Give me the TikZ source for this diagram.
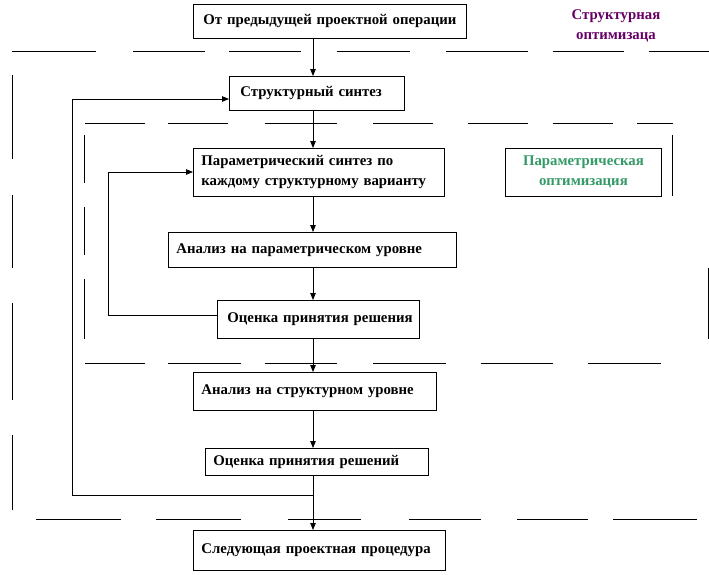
\documentclass[tikz,border=0pt]{standalone}
\usepackage{fontspec}
\setmainfont{Liberation Serif}
\usetikzlibrary{arrows.meta}
\definecolor{labpurple}{HTML}{660066}
\definecolor{labgreen}{HTML}{339966}
\newcommand{\tb}{\fontsize{14.8}{20}\selectfont\bfseries}
\tikzset{
  box/.style={draw, line width=0.8pt, anchor=north west, inner xsep=8pt, inner ysep=0pt, font=\tb, align=left},
  arr/.style={line width=0.8pt, -{Triangle[length=7pt,width=5.5pt]}},
  ln/.style={line width=0.8pt},
  lab/.style={font=\tb, align=center, inner sep=0pt},
}
\begin{document}
\begin{tikzpicture}[x=1pt,y=-1pt]
\useasboundingbox (0,0) rectangle (709,574);
% dashed frame lines
\foreach \a/\b in {12/96,133/205,229/301,337/410,446/528,553/624,649/709}
  \draw[ln] (\a,51) -- (\b,51);
\foreach \a/\b in {85/145,168/228,265/337,373/433,468/528,553/613,637/673}
  \draw[ln] (\a,123) -- (\b,123);
\foreach \a/\b in {85/145,168/241,265/337,373/446,481/553,588/661}
  \draw[ln] (\a,363) -- (\b,363);
\foreach \a/\b in {36/121,156/241,288/361,409/481,517/588,613/697}
  \draw[ln] (\a,519) -- (\b,519);
\foreach \a/\b in {75/159,195/268,303/400,435/510}
  \draw[ln] (12,\a) -- (12,\b);
\foreach \a/\b in {135/183,207/255,279/339}
  \draw[ln] (84,\a) -- (84,\b);
\draw[ln] (672,135) -- (672,196);
\draw[ln] (708,268) -- (708,339);
% boxes
\node[box, align=center, text width=257pt, minimum height=34pt] (b1) at (193,4) {От предыдущей проектной операции};
\node[box, inner xsep=11pt, text width=153pt, minimum height=34pt] (b2) at (229,76) {Структурный синтез};
\node[box, text width=235pt, minimum height=48pt] (b3) at (193,148) {Параметрический синтез по\\каждому  структурному  варианту};
\node[box, align=center, text width=140pt, minimum height=48pt, text=labgreen] (b4) at (505,148) {Параметрическая\\оптимизация};
\node[box, text width=272pt, minimum height=35pt] (b5) at (168,232) {Анализ на параметрическом уровне};
\node[box, inner xsep=3pt, text width=196pt, minimum height=38pt] (b6) at (217,300) {\hspace*{7pt}Оценка принятия решения};
\node[box, text width=227pt, minimum height=38pt] (b7) at (193,372) {Анализ на структурном  уровне};
\node[box, text width=207pt, minimum height=27pt] (b8) at (205,448) {Оценка принятия решений};
\node[box, text width=236pt, minimum height=40pt] (b9) at (193,530) {Следующая  проектная процедура};
\node[lab, text=labpurple] (l1) at (616,26) {Структурная\\оптимизаца};
% connectors
\coordinate (cx) at (313,0);
\coordinate (j) at (313,495);
\coordinate (fbo) at (72,99);
\coordinate (fbi) at (108,172);
\draw[arr] (b1.south -| cx) -- (b2.north -| cx);
\draw[arr] (b2.south -| cx) -- (b3.north -| cx);
\draw[arr] (b3.south -| cx) -- (b5.north -| cx);
\draw[arr] (b5.south -| cx) -- (b6.north -| cx);
\draw[arr] (b6.south -| cx) -- (b7.north -| cx);
\draw[arr] (b7.south -| cx) -- (b8.north -| cx);
\draw[arr] (b8.south -| cx) -- (b9.north -| cx);
\draw[arr] (j) -| (fbo) -- (fbo -| b2.west);
\draw[arr] ([yshift=4pt]b6.west) -| (fbi) -- (fbi -| b3.west);
\end{tikzpicture}
\end{document}
